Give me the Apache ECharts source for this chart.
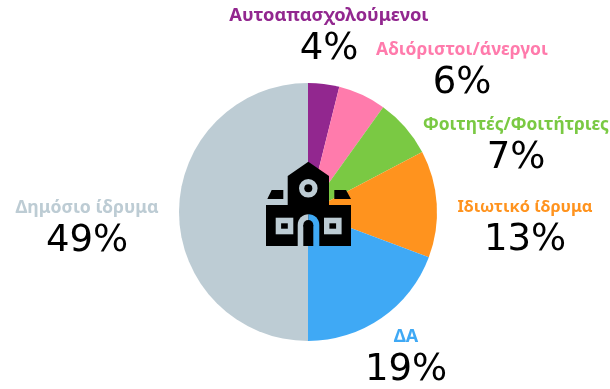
<!DOCTYPE html>
<html><head><meta charset="utf-8">
<style>html,body{margin:0;padding:0;background:#fff}#c{width:610px;height:389px}</style>
<script src="https://cdn.jsdelivr.net/npm/echarts@6/dist/echarts.min.js"></script>
</head><body><div id="c"></div>
<script>
const categories = ['Αυτοαπασχολούμενοι','Αδιόριστοι/άνεργοι','Φοιτητές/Φοιτήτριες','Ιδιωτικό ίδρυμα','ΔΑ','Δημόσιο ίδρυμα'];
const sliceValues = [3.9, 6, 7.4, 13.4, 19.3, 50];
const printedLabels = ['4%','6%','7%','13%','19%','49%'];
const colors = ['#92278F','#FF7BAC','#7AC943','#FF931E','#3FA9F5','#BDCCD4'];
const labelCenters = [[329,34],[462,68],[516,143],[525,225],[406,355],[87,226]];
const nameSizes = [18.3,17.5,17.4,16.4,18,17.7];

const chart = echarts.init(document.getElementById('c'), null, {renderer:'canvas'});
const black = {fill:'#000'};
const gray = {fill:'#BDCCD4'};
const blue = {fill:'#3FA9F5'};
const win = (x) => [
  {type:'rect', shape:{x:x,y:217.7,width:17.6,height:16.6}, style:gray},
  {type:'rect', shape:{x:x+5.4,y:223.3,width:6.7,height:5.4}, style:black}
];
const iconParts = [
    {type:'polygon',shape:{points:[[308.3,161.7],[329,176],[329,205],[351,205],[351,246],[266,246],[266,205],[287.7,205],[287.7,176]]},style:black},
    {type:'polygon',shape:{points:[[271.7,190],[283.3,190],[283.3,199],[267.3,199]]},style:black},
    {type:'polygon',shape:{points:[[334.3,190],[346,190],[351,199],[334.3,199]]},style:black},
    {type:'circle',shape:{cx:308.3,cy:188.3,r:9.3},style:gray},
    {type:'circle',shape:{cx:308.3,cy:188.3,r:4},style:black},
    ...win(275.7),...win(324),
    {type:'rect',shape:{x:297.7,y:225,width:10.8,height:21},style:gray},
    {type:'rect',shape:{x:308.5,y:225,width:10.8,height:21},style:blue},
    {type:'sector',shape:{cx:308.5,cy:225,r:10.8,r0:0,startAngle:Math.PI,endAngle:Math.PI*1.5},style:gray},
    {type:'sector',shape:{cx:308.5,cy:225,r:10.8,r0:0,startAngle:Math.PI*1.5,endAngle:Math.PI*2},style:blue},
    {type:'circle',shape:{cx:308.3,cy:225,r:5},style:black},
    {type:'rect',shape:{x:303.3,y:225,width:10,height:21},style:black}
];
chart.setOption({
  animation:false,
  backgroundColor:'#fff',
  series:[{
    type:'pie', center:[308,212], radius:[0,129], startAngle:90, clockwise:true,
    silent:true,
    data:categories.map((n,i)=>({name:n,value:sliceValues[i],itemStyle:{color:colors[i]},
      label:{formatter:'{n|'+n+'}\n{p|'+printedLabels[i]+'}',
        rich:{n:{fontFamily:'"Noto Sans"',fontWeight:'bold',fontSize:nameSizes[i],color:colors[i],lineHeight:30,align:'center'},
              p:{fontFamily:'"DejaVu Sans"',fontSize:37,color:'#000',lineHeight:36,align:'center'}}}})),
    label:{show:true,position:'outside',width:260,overflow:'none',align:'center'},
    labelLine:{show:false},
    labelLayout:(p)=>({x:labelCenters[p.dataIndex][0],y:labelCenters[p.dataIndex][1],align:'center',verticalAlign:'middle',hideOverlap:false,moveOverlap:false})
  }],
  graphic:iconParts.map((part,i)=>Object.assign({silent:true,z:100+i},part))
});
</script></body></html>
